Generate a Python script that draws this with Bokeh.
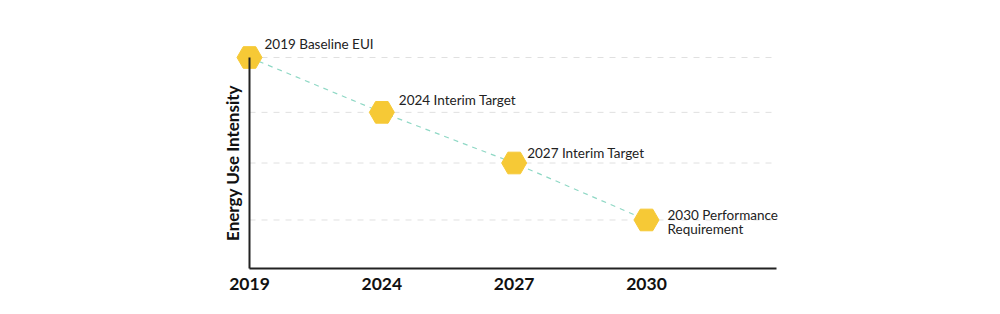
from bokeh.plotting import figure
from bokeh.models import FixedTicker, Range1d, ColumnDataSource
from bokeh.core.properties import value
from bokeh.embed import file_html
from bokeh.resources import INLINE

# ---- data ----
years = ["2019", "2024", "2027", "2030"]
eui = [100, 74, 50, 23]
labels = ["2019 Baseline EUI", "2024 Interim Target", "2027 Interim Target",
          "2030 Performance\nRequirement"]
axis_title = "Energy Use Intensity"

# ---- styling (label offsets in screen px) ----
label_dx = [15, 17, 13, 21]
label_dy = [-14, -12, -10, 2]
FONT = "Lato"

idx = list(range(len(years)))
src = ColumnDataSource(dict(x=idx, y=eui, label=labels, dx=label_dx, dy=label_dy))

px_per_x = 132.33
px_per_y = 2.11
frame_left, frame_right = 222, 785
frame_top, frame_bottom = 28, 308
x0_px, y0_px = 249, 268

xs = (frame_left - x0_px) / px_per_x
xe = (frame_right - x0_px) / px_per_x
ys = -(frame_bottom - y0_px) / px_per_y
ye = (y0_px - frame_top) / px_per_y
axis_end = (776 - x0_px) / px_per_x

p = figure(width=1000, height=314, output_backend="svg", toolbar_location=None,
           x_range=Range1d(xs, xe), y_range=Range1d(ys, ye),
           min_border_left=frame_left, min_border_right=1000 - frame_right,
           min_border_top=frame_top, min_border_bottom=314 - frame_bottom)
p.outline_line_color = None
p.grid.visible = False
p.background_fill_color = "white"
p.border_fill_color = "white"

# dashed horizontal guide lines at each milestone level
p.segment(x0=0, x1=axis_end, y0="y", y1="y", source=src,
          line_color="#e0e0e0", line_width=1, line_dash="6 6")

# connecting dashed line
p.line(x="x", y="y", source=src, line_color="#8fd8c5", line_width=1.2, line_dash="5 5")

# hexagon markers
p.scatter(x="x", y="y", source=src, marker="hex", size=25,
          fill_color="#f6c936", line_color="#f6c936")

# labels
p.text(x="x", y="y", text="label", source=src, x_offset="dx", y_offset="dy",
       text_font=value(FONT), text_font_size="13.5px", text_color="#222222",
       text_baseline="middle", text_align="left", text_line_height=0.85)

# x axis
xa = p.xaxis[0]
xa.ticker = FixedTicker(ticks=idx)
xa.major_label_overrides = {i: y for i, y in zip(idx, years)}
xa.fixed_location = 0
xa.bounds = (0, axis_end)
xa.axis_line_color = "#222222"
xa.axis_line_width = 2
xa.major_tick_line_color = None
xa.minor_tick_line_color = None
xa.major_label_standoff = 3
xa.major_label_text_font = FONT
xa.major_label_text_font_style = "bold"
xa.major_label_text_font_size = "17.5px"
xa.major_label_text_color = "#111111"

# y axis
ya = p.yaxis[0]
ya.ticker = FixedTicker(ticks=[])
ya.fixed_location = 0
ya.bounds = (0, 100)
ya.axis_line_color = "#222222"
ya.axis_line_width = 2
ya.major_tick_line_color = None
ya.minor_tick_line_color = None
ya.major_label_text_font_size = "0px"
ya.major_label_standoff = 0
ya.axis_label = axis_title
ya.axis_label_standoff = 7
ya.axis_label_text_font = FONT
ya.axis_label_text_font_style = "bold"
ya.axis_label_text_font_size = "17px"
ya.axis_label_text_color = "#111111"

open("out.html", "w").write(file_html(p, INLINE))
